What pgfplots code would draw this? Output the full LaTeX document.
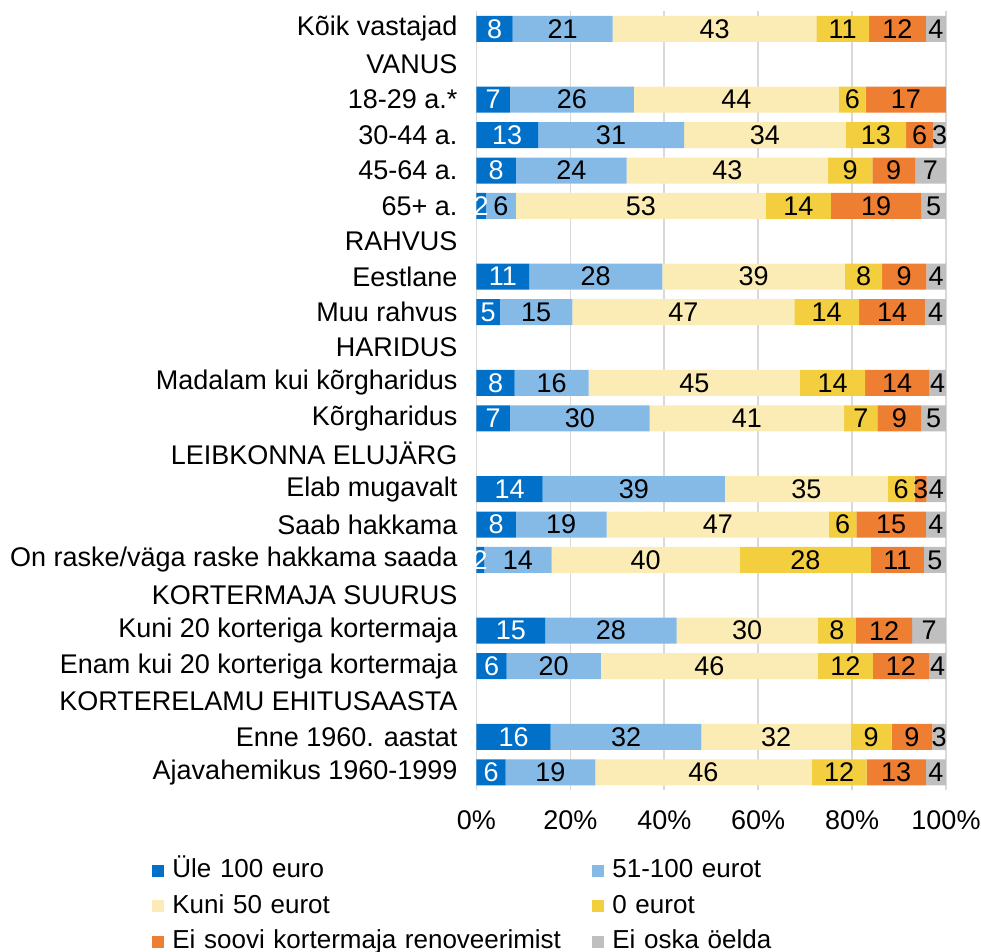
\documentclass[border=0pt]{standalone}
\usepackage{fontspec}
\setmainfont{Liberation Sans}
\usepackage{pgfplots}
\pgfplotsset{compat=1.18}
\usepackage{pgfplotstable}

\definecolor{cA}{HTML}{0070C9}
\definecolor{cB}{HTML}{85B9E6}
\definecolor{cC}{HTML}{FBEBB4}
\definecolor{cD}{HTML}{F3CE3E}
\definecolor{cE}{HTML}{EE7E32}
\definecolor{cF}{HTML}{BFBFBF}
\definecolor{gridc}{HTML}{D9D9D9}

\pgfplotstableread{
y a b c d e f
0 7.7 21.3 43.4 11.2 12.1 4.3
2 7.1 26.4 43.7 5.7 17.1 0
3 13.1 31.1 34.4 12.9 5.8 2.7
4 8.4 23.6 42.9 9.4 9.1 6.6
5 2.0 6.4 53.2 13.9 19.2 5.3
7 11.2 28.4 38.9 7.9 9.4 4.2
8 5.0 15.4 47.3 13.8 14.1 4.4
10 8.1 15.8 45.0 13.9 13.6 3.6
11 7.1 29.8 41.4 7.1 9.3 5.3
13 14.1 38.8 34.7 5.7 2.6 4.1
14 8.4 19.3 47.4 5.8 14.8 4.3
15 1.6 14.4 40.1 27.9 11.3 4.7
17 14.6 28.0 30.1 8.1 12.0 7.2
18 6.4 20.1 46.2 11.7 12.0 3.6
20 15.8 32.1 31.8 8.7 8.7 2.9
21 6.2 19.1 46.1 11.7 12.6 4.3
}\data

\begin{document}
\begin{tikzpicture}[font=\fontsize{13.5}{16}\selectfont]
\useasboundingbox (0,0) rectangle (490.5pt,476pt);
\begin{axis}[
  at={(238.25pt,81pt)}, anchor=south west,
  scale only axis, width=234.75pt, height=389.4pt,
  xbar stacked, bar width=13pt,
  y dir=reverse,
  xmin=0, xmax=100, ymin=-0.5, ymax=21.5,
  axis line style={draw=none},
  tick style={draw=none},
  xmajorgrids, grid style={gridc, line width=0.8pt},
  xtick={0,20,40,60,80,100},
  xticklabels={0\%,20\%,40\%,60\%,80\%,100\%},
  xticklabel style={yshift=-7pt},
  ytick={0,...,21},
  yticklabels={{Kõik vastajad},{VANUS},{18-29 a.*},{30-44 a.},{45-64 a.},{65+ a.},{RAHVUS},{Eestlane},{Muu rahvus},{HARIDUS},{Madalam kui kõrgharidus},{Kõrgharidus},{LEIBKONNA ELUJÄRG},{Elab mugavalt},{Saab hakkama},{On raske/väga raske hakkama saada},{KORTERMAJA SUURUS},{Kuni 20 korteriga kortermaja},{Enam kui 20 korteriga kortermaja},{KORTERELAMU EHITUSAASTA},{Enne 1960. aastat},{Ajavahemikus 1960-1999}},
  yticklabel style={anchor=east, xshift=-6pt},
  /pgf/number format/assume math mode=true,
  point meta=explicit,
  nodes near coords={\pgfmathfloatifflags{\pgfplotspointmeta}{0}{}{\pgfmathprintnumber[fixed,precision=0]{\pgfplotspointmeta}}},
  every node near coord/.append style={font=\fontsize{13.5}{16}\selectfont, inner sep=0pt},
  legend columns=2,
  legend cell align=left,
  legend image code/.code={\fill[#1] (0pt,-3pt) rectangle (6pt,3pt);},
  legend style={at={(axis description cs:-0.6912,-0.0865)}, anchor=north west,
    draw=none, fill=none, inner sep=0pt, row sep=4.75pt, column sep=0pt,
    nodes={font=\fontsize{13}{15}\selectfont, text height=10pt, text depth=3pt, inner ysep=0pt, inner xsep=4pt, text width=206pt, align=left}},
]
\addplot[fill=cA, draw=none, nodes near coords style={white}] table[x=a, y=y, meta=a]{\data};
\addplot[fill=cB, draw=none, nodes near coords style={black}] table[x=b, y=y, meta=b]{\data};
\addplot[fill=cC, draw=none, nodes near coords style={black}] table[x=c, y=y, meta=c]{\data};
\addplot[fill=cD, draw=none, nodes near coords style={black}] table[x=d, y=y, meta=d]{\data};
\addplot[fill=cE, draw=none, nodes near coords style={black}] table[x=e, y=y, meta=e]{\data};
\addplot[fill=cF, draw=none, nodes near coords style={black}] table[x=f, y=y, meta=f]{\data};
\legend{Üle 100 euro, 51-100 eurot, Kuni 50 eurot, 0 eurot, Ei soovi kortermaja renoveerimist, Ei oska öelda}
\end{axis}
\end{tikzpicture}
\end{document}
